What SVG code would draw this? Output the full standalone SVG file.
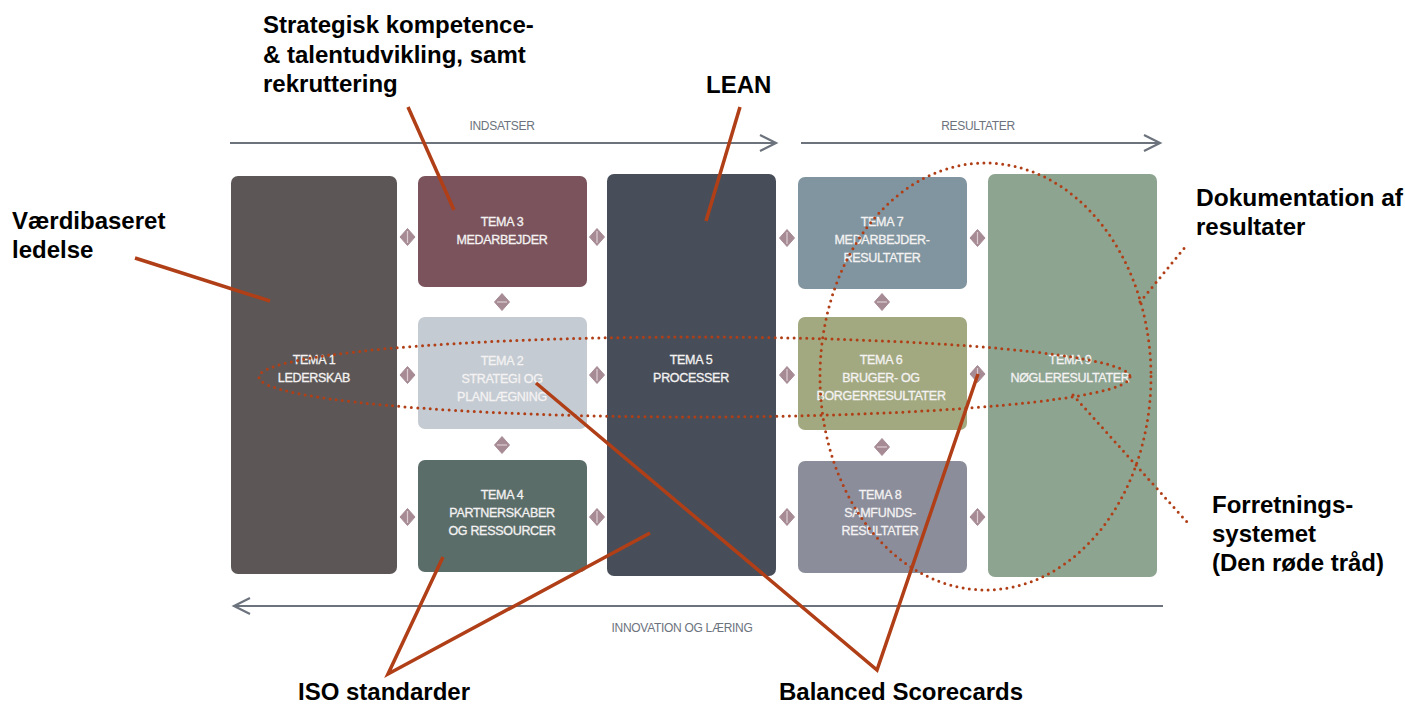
<svg xmlns="http://www.w3.org/2000/svg" width="1405" height="704" viewBox="0 0 1405 704">
<defs>
<style>
.box{stroke:none}
.bt{font-family:"Liberation Sans",Arial,sans-serif;font-size:12.5px;fill:#f4f2f2;stroke:#f4f2f2;stroke-width:0.3;text-anchor:middle;letter-spacing:-0.3px}
.lbl{font-family:"Liberation Sans",Arial,sans-serif;font-size:24px;font-weight:bold;fill:#000}
.ax{stroke:#6c737d;stroke-width:2.2;fill:none}
.at{font-family:"Liberation Sans",Arial,sans-serif;font-size:12px;fill:#6c737d;letter-spacing:-0.3px}
.red{stroke:#b03f17;stroke-width:3.5;fill:none;stroke-linecap:butt}
.dot{stroke:#b03f17;stroke-width:3;fill:none;stroke-dasharray:0 6.3;stroke-linecap:round}
.dm{fill:#a78b94}
.dl{stroke:#dccdd2;stroke-width:1.2}
</style>
<g id="dh"><path class="dm" d="M0,-8.5 L7.5,0 L0,8.5 L-7.5,0 Z" stroke="#a78b94" stroke-width="1" stroke-linejoin="round"/><line class="dl" x1="0" y1="-6" x2="0" y2="6"/></g>
<g id="dv"><path class="dm" d="M0,-8.5 L7.5,0 L0,8.5 L-7.5,0 Z" stroke="#a78b94" stroke-width="1" stroke-linejoin="round"/><line class="dl" x1="-5" y1="0" x2="5" y2="0"/></g>
</defs>
<rect width="1405" height="704" fill="#fff"/>

<g id="tema1"><rect class="box" x="231" y="176" width="166" height="398" rx="7" fill="#5c5756"/><text class="bt" x="314" y="364">TEMA 1</text><text class="bt" x="314" y="382">LEDERSKAB</text></g>
<g id="tema3"><rect class="box" x="418" y="176" width="169" height="111" rx="7" fill="#7a535c"/><text class="bt" x="502" y="226">TEMA 3</text><text class="bt" x="502" y="244">MEDARBEJDER</text></g>
<g id="tema2"><rect class="box" x="418" y="317" width="169" height="112" rx="7" fill="#c4cbd2"/><text class="bt" x="502" y="365">TEMA 2</text><text class="bt" x="502" y="383">STRATEGI OG</text><text class="bt" x="502" y="401">PLANLÆGNING</text></g>
<g id="tema4"><rect class="box" x="418" y="460" width="169" height="112" rx="7" fill="#5b6d69"/><text class="bt" x="502" y="499">TEMA 4</text><text class="bt" x="502" y="517">PARTNERSKABER</text><text class="bt" x="502" y="535">OG RESSOURCER</text></g>
<g id="tema5"><rect class="box" x="607" y="174" width="169" height="402" rx="7" fill="#484e59"/><text class="bt" x="691" y="364">TEMA 5</text><text class="bt" x="691" y="382">PROCESSER</text></g>
<g id="tema7"><rect class="box" x="798" y="177" width="169" height="112" rx="7" fill="#80959f"/><text class="bt" x="882" y="226">TEMA 7</text><text class="bt" x="882" y="244">MEDARBEJDER-</text><text class="bt" x="882" y="262">RESULTATER</text></g>
<g id="tema6"><rect class="box" x="798" y="317" width="169" height="113" rx="7" fill="#a2a980"/><text class="bt" x="881" y="364">TEMA 6</text><text class="bt" x="881" y="382">BRUGER- OG</text><text class="bt" x="881" y="400">BORGERRESULTATER</text></g>
<g id="tema8"><rect class="box" x="798" y="461" width="169" height="112" rx="7" fill="#8b8d9b"/><text class="bt" x="880" y="499">TEMA 8</text><text class="bt" x="880" y="517">SAMFUNDS-</text><text class="bt" x="880" y="535">RESULTATER</text></g>
<g id="tema9"><rect class="box" x="988" y="174" width="169" height="403" rx="7" fill="#8da491"/><text class="bt" x="1070" y="364">TEMA 9</text><text class="bt" x="1070" y="382">NØGLERESULTATER</text></g>

<g id="diamonds">
<use href="#dh" x="407.5" y="237"/><use href="#dh" x="407.5" y="375"/><use href="#dh" x="407.5" y="517"/>
<use href="#dh" x="597" y="237"/><use href="#dh" x="597" y="375"/><use href="#dh" x="597" y="517"/>
<use href="#dh" x="787" y="238"/><use href="#dh" x="787" y="375"/><use href="#dh" x="787" y="517"/>
<use href="#dh" x="977.5" y="238"/><use href="#dh" x="977.5" y="374"/><use href="#dh" x="977.5" y="517"/>
<use href="#dv" x="502" y="302"/><use href="#dv" x="502" y="445"/>
<use href="#dv" x="882" y="302"/><use href="#dv" x="882" y="447"/>
</g>

<g id="axes">
<line class="ax" x1="230" y1="143" x2="776" y2="143"/><polyline class="ax" points="760,135 776,143 760,151"/>
<line class="ax" x1="801" y1="143" x2="1160" y2="143"/><polyline class="ax" points="1144,135 1160,143 1144,151"/>
<line class="ax" x1="234" y1="606" x2="1163" y2="606"/><polyline class="ax" points="250,598 234,606 250,614"/>
<text class="at" x="502" y="130" text-anchor="middle">INDSATSER</text>
<text class="at" x="978" y="130" text-anchor="middle">RESULTATER</text>
<text class="at" x="682" y="632" text-anchor="middle" font-size="11.5">INNOVATION OG LÆRING</text>
</g>

<g id="labels">
<text class="lbl" x="263" y="33">Strategisk kompetence-</text>
<text class="lbl" x="263" y="63">&amp; talentudvikling, samt</text>
<text class="lbl" x="263" y="92">rekruttering</text>
<text class="lbl" x="706" y="93">LEAN</text>
<text class="lbl" x="12" y="229">Værdibaseret</text>
<text class="lbl" x="12" y="258">ledelse</text>
<text class="lbl" x="1196" y="206" textLength="207" lengthAdjust="spacingAndGlyphs">Dokumentation af</text>
<text class="lbl" x="1196" y="235">resultater</text>
<text class="lbl" x="1212" y="513">Forretnings-</text>
<text class="lbl" x="1212" y="542">systemet</text>
<text class="lbl" x="1212" y="571">(Den røde tråd)</text>
<text class="lbl" x="298" y="700">ISO standarder</text>
<text class="lbl" x="779" y="700">Balanced Scorecards</text>
</g>

<g id="connectors">
<line class="red" x1="408" y1="107" x2="454" y2="210"/>
<line class="red" x1="740" y1="107" x2="706" y2="221"/>
<line class="red" x1="135" y1="258" x2="270" y2="301"/>
<polyline class="red" points="443,557 388,674 650,533"/>
<polyline class="red" points="536,383 877,670 978,374"/>
<ellipse class="dot" cx="694.5" cy="377" rx="435.5" ry="40"/>
<ellipse class="dot" cx="985.5" cy="376.5" rx="165.5" ry="213.5"/>
<line class="dot" x1="1140" y1="302" x2="1186" y2="246"/>
<line class="dot" x1="1073" y1="395" x2="1187" y2="522"/>
</g>
</svg>
